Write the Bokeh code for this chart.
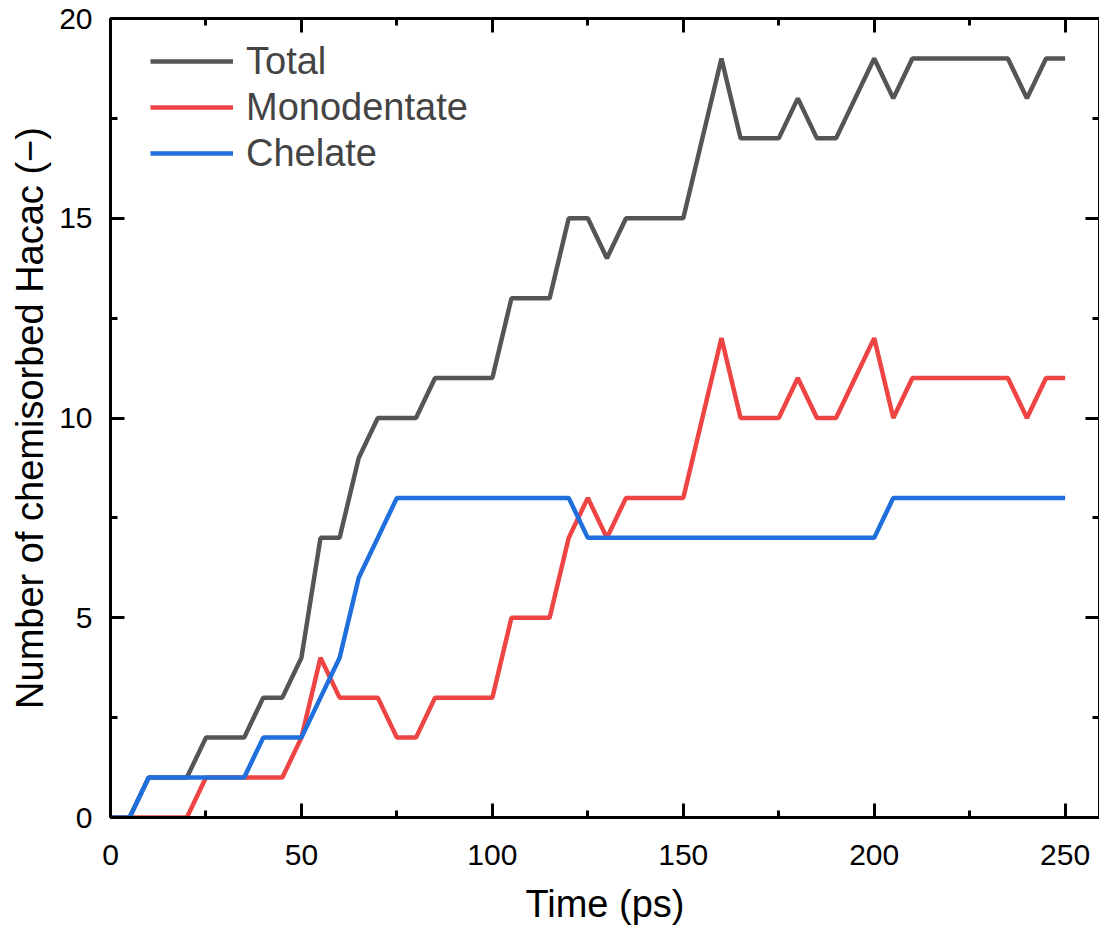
from bokeh.plotting import figure
from bokeh.models import LinearAxis, SingleIntervalTicker, Range1d, Legend, LegendItem, CustomJSTickFormatter
from bokeh.embed import file_html
from bokeh.resources import INLINE

time_ps = [0, 5, 10, 15, 20, 25, 30, 35, 40, 45, 50, 55, 60, 65, 70, 75, 80, 85, 90, 95,
           100, 105, 110, 115, 120, 125, 130, 135, 140, 145, 150, 155, 160, 165, 170, 175,
           180, 185, 190, 195, 200, 205, 210, 215, 220, 225, 230, 235, 240, 245, 250]
total = [0, 0, 1, 1, 1, 2, 2, 2, 3, 3, 4, 7, 7, 9, 10, 10, 10, 11, 11, 11,
         11, 13, 13, 13, 15, 15, 14, 15, 15, 15, 15, 17, 19, 17, 17, 17,
         18, 17, 17, 18, 19, 18, 19, 19, 19, 19, 19, 19, 18, 19, 19]
monodentate = [0, 0, 0, 0, 0, 1, 1, 1, 1, 1, 2, 4, 3, 3, 3, 2, 2, 3, 3, 3,
               3, 5, 5, 5, 7, 8, 7, 8, 8, 8, 8, 10, 12, 10, 10, 10,
               11, 10, 10, 11, 12, 10, 11, 11, 11, 11, 11, 11, 10, 11, 11]
chelate = [0, 0, 1, 1, 1, 1, 1, 1, 2, 2, 2, 3, 4, 6, 7, 8, 8, 8, 8, 8,
           8, 8, 8, 8, 8, 7, 7, 7, 7, 7, 7, 7, 7, 7, 7, 7,
           7, 7, 7, 7, 7, 8, 8, 8, 8, 8, 8, 8, 8, 8, 8]
series_labels = ["Total", "Monodentate", "Chelate"]
series_colors = ["#555555", "#ee4444", "#1f6fdd"]

FONT = "Liberation Sans"

p = figure(width=1099, height=927, output_backend="svg", toolbar_location=None,
           x_range=Range1d(0, 259), y_range=Range1d(0, 20),
           x_axis_location=None, y_axis_location=None,
           min_border_left=110, min_border_top=18, min_border_bottom=109, min_border_right=0)
p.outline_line_color = None
p.grid.visible = False
p.background_fill_color = "white"
p.border_fill_color = "white"

def style(ax, labels=True):
    ax.axis_line_width = 3
    ax.axis_line_color = "black"
    ax.major_tick_in = 14
    ax.major_tick_out = 0
    ax.minor_tick_in = 7
    ax.minor_tick_out = 0
    ax.major_tick_line_width = 3
    ax.minor_tick_line_width = 3
    ax.major_tick_line_color = "black"
    ax.minor_tick_line_color = "black"
    if labels:
        ax.major_label_text_font = FONT
        ax.major_label_text_font_size = "30px"
        ax.major_label_text_color = "black"
        ax.axis_label_text_font = FONT
        ax.axis_label_text_font_size = "38px"
        ax.axis_label_text_font_style = "normal"
        ax.axis_label_text_color = "black"
    else:
        ax.formatter = CustomJSTickFormatter(code="return ''")
        ax.major_label_text_font_size = "1px"
        ax.major_label_standoff = 0
        ax.axis_label = None

xb = LinearAxis(ticker=SingleIntervalTicker(interval=50, num_minor_ticks=2), axis_label="Time (ps)")
style(xb)
xb.major_label_standoff = 27
xb.axis_label_standoff = 15
p.add_layout(xb, "below")

yl = LinearAxis(ticker=SingleIntervalTicker(interval=5, num_minor_ticks=2),
                axis_label="Number of chemisorbed Hacac (−)")
style(yl)
yl.major_label_standoff = 18
yl.axis_label_standoff = 5
p.add_layout(yl, "left")

xt = LinearAxis(ticker=SingleIntervalTicker(interval=50, num_minor_ticks=2))
style(xt, labels=False)
p.add_layout(xt, "above")

yr = LinearAxis(ticker=SingleIntervalTicker(interval=5, num_minor_ticks=2))
style(yr, labels=False)
p.add_layout(yr, "right")

renderers = []
for ys, col in zip([total, monodentate, chelate], series_colors):
    renderers.append(p.line(time_ps, ys, line_color=col, line_width=4.5))

legend = Legend(items=[LegendItem(label=lab, renderers=[r]) for lab, r in zip(series_labels, renderers)],
                location=(40, 641), padding=0, margin=0, spacing=0,
                glyph_width=83, glyph_height=46, label_height=46, label_standoff=13,
                label_text_font=FONT, label_text_font_size="38px",
                background_fill_alpha=0, border_line_color=None)
p.add_layout(legend, "center")

open("out.html", "w").write(file_html(p, INLINE))
